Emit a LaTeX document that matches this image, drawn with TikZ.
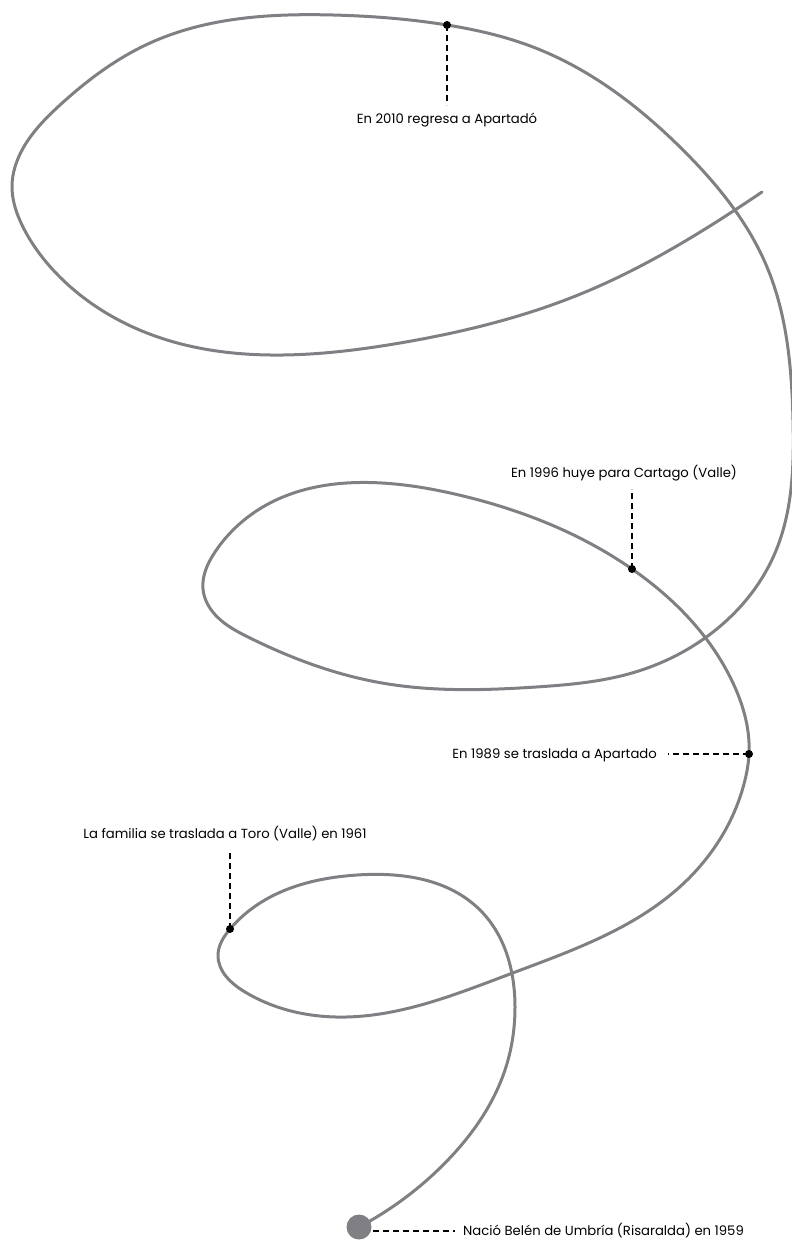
\documentclass[tikz,border=0pt]{standalone}
\usepackage{fontspec}
\setmainfont{Poppins}
\usetikzlibrary{hobby}
\definecolor{pathgray}{RGB}{128,128,132}

\begin{document}
\begin{tikzpicture}[
    x=1pt, y=-1pt,
    trail/.style={
        draw=pathgray,
        line width=3pt,
        line cap=round,
        line join=round,
        use Hobby shortcut
    },
    milestone/.style={circle, fill=black, inner sep=0pt, minimum size=8pt},
    origin/.style={circle, fill=pathgray, inner sep=0pt, minimum size=25pt},
    leader/.style={draw=black, line width=2pt, dash pattern=on 6pt off 4pt},
    caption/.style={inner sep=0pt, font=\fontsize{13.2}{15}\selectfont}
]

\useasboundingbox (0,0) rectangle (792,1242);

% The life path, from 1959 to today
\draw[trail] (359,1227) .. (445,1163) .. (505,1070) .. (515,1007)
    .. (480,910) .. (357,875) .. (260,903) .. (230,929) .. (218,955)
    .. (245,992) .. (336,1017) .. (510,974) .. (684,883) .. (745,780)
    .. (749,754) .. (733,683) .. (632,569) .. (459,495) .. (382,483)
    .. (270,503) .. (215,552) .. (203,589) .. (212,611) .. (248,637)
    .. (382,683) .. (536,687) .. (632,673) .. (705,638) .. (775,553)
    .. (793,420) .. (767,267) .. (683,150) .. (533,47) .. (447,25)
    .. (333,15) .. (150,43) .. (60,105) .. (15,167) .. (12,185)
    .. (23,227) .. (55,272) .. (167,340) .. (283,355) .. (400,343)
    .. (583,293) .. (738,208) .. (762,192);

% Milestones on the path
\node[origin] (o1959) at (359,1227) {};
\node[milestone] (d1961) at (230,929) {};
\node[milestone] (d1989) at (749,754) {};
\node[milestone] (d1996) at (632,569) {};
\node[milestone] (d2010) at (447,25) {};

% Captions
\node[caption, anchor=base west] (t1959) at (463,1235) {Nació Belén de Umbría (Risaralda) en 1959};
\node[caption, anchor=base] (t1961) at (225,838) {La familia se traslada a Toro (Valle) en 1961};
\node[caption, anchor=base east] (t1989) at (657,758) {En 1989 se traslada a Apartado};
\node[caption, anchor=base] (t1996) at (624,477) {En 1996 huye para Cartago (Valle)};
\node[caption, anchor=base] (t2010) at (447,123) {En 2010 regresa a Apartadó};

% Leader lines
\coordinate (s1959) at (373,1231);
\coordinate (e1959) at (455,1231);
\coordinate (e1961) at (230,850);
\coordinate (e1989) at (668,754);
\coordinate (e1996) at (632,489);
\coordinate (e2010) at (447,105);

\draw[leader] (s1959) -- (e1959);
\draw[leader] (d1961.center) -- (e1961);
\draw[leader] (d1989.center) -- (e1989);
\draw[leader] (d1996.center) -- (e1996);
\draw[leader] (d2010.center) -- (e2010);

\end{tikzpicture}
\end{document}
